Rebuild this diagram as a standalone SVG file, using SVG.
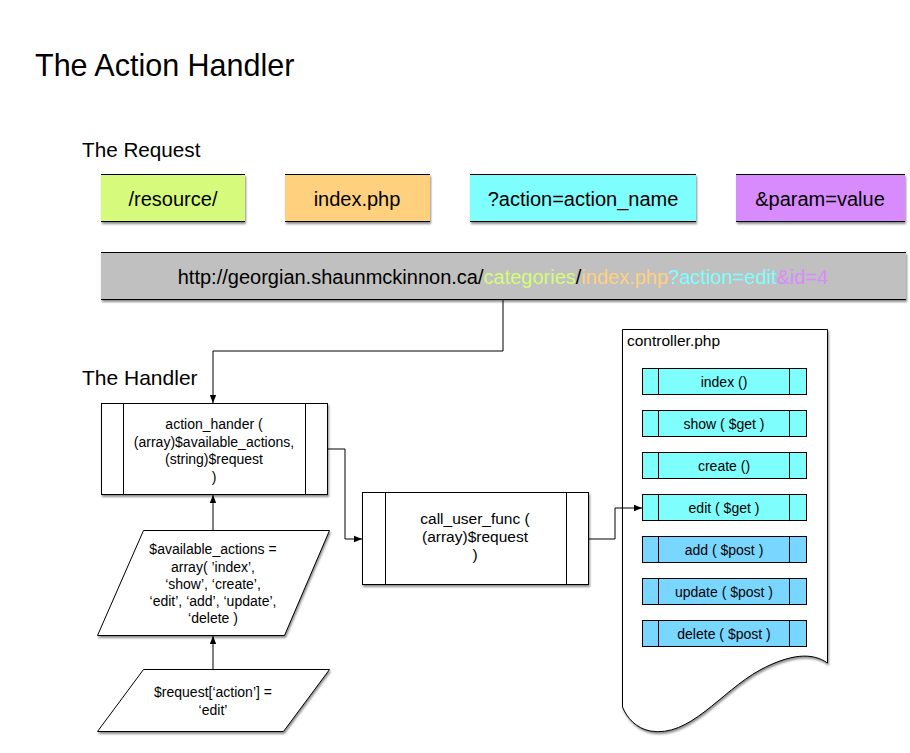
<svg xmlns="http://www.w3.org/2000/svg" width="910" height="753" viewBox="0 0 910 753">
<style>
text{font-family:"Liberation Sans",Arial,sans-serif;fill:#000}
.lbl{font-size:20px;text-anchor:middle}
.small{font-size:14px;text-anchor:middle}
.cf{font-size:15.5px;text-anchor:middle}
.m{font-size:14px;text-anchor:middle}
.edge{fill:none;stroke:#000;stroke-width:1}
.box{stroke:#000;stroke-width:1}
.bar{stroke:#000;stroke-width:1}
</style>
<defs>
<filter id="sh" x="-10%" y="-10%" width="130%" height="140%">
<feDropShadow dx="1" dy="2" stdDeviation="1.2" flood-color="#000" flood-opacity="0.45"/>
</filter>
<marker id="ah" viewBox="0 0 10 10" refX="10" refY="5" markerWidth="8" markerHeight="8" markerUnits="userSpaceOnUse" orient="auto">
<path d="M0,1 L10,5 L0,9 Z" fill="#000"/>
</marker>
</defs>
<rect width="910" height="753" fill="#fff"/>
<text x="35" y="76" style="font-size:30.5px">The Action Handler</text>
<text x="82" y="157" style="font-size:20.7px">The Request</text>
<text x="82" y="385" style="font-size:21px">The Handler</text>

<g id="req-resource">
<rect x="101" y="174" width="144" height="48" fill="#d6fb7b" filter="url(#sh)"/>
<line class="bar" x1="101" y1="174.5" x2="245" y2="174.5"/>
<line class="bar" x1="101" y1="221.5" x2="245" y2="221.5" stroke-width="1.5"/>
<text class="lbl" x="173" y="206">/resource/</text>
</g>
<g id="req-index">
<rect x="285" y="174" width="145" height="48" fill="#ffd17f" filter="url(#sh)"/>
<line class="bar" x1="285" y1="174.5" x2="430" y2="174.5"/>
<line class="bar" x1="285" y1="221.5" x2="430" y2="221.5" stroke-width="1.5"/>
<text class="lbl" x="357" y="206">index.php</text>
</g>
<g id="req-action">
<rect x="470" y="174" width="226" height="48" fill="#7ffefe" filter="url(#sh)"/>
<line class="bar" x1="470" y1="174.5" x2="696" y2="174.5"/>
<line class="bar" x1="470" y1="221.5" x2="696" y2="221.5" stroke-width="1.5"/>
<text class="lbl" x="583" y="206">?action=action_name</text>
</g>
<g id="req-param">
<rect x="736" y="174" width="169" height="48" fill="#d88bfc" filter="url(#sh)"/>
<line class="bar" x1="736" y1="174.5" x2="905" y2="174.5"/>
<line class="bar" x1="736" y1="221.5" x2="905" y2="221.5" stroke-width="1.5"/>
<text class="lbl" x="820" y="206">&amp;param=value</text>
</g>

<g id="url">
<rect x="101" y="252" width="805" height="48" fill="#c0c0c0" filter="url(#sh)"/>
<line class="bar" x1="101" y1="252.5" x2="906" y2="252.5"/>
<line class="bar" x1="101" y1="299.5" x2="906" y2="299.5" stroke-width="1.5"/>
<text class="lbl" x="503" y="284">http://georgian.shaunmckinnon.ca/<tspan fill="#d6fb7b">categories</tspan>/<tspan fill="#ffd17f">index.php</tspan><tspan fill="#7ffefe">?action=edit</tspan><tspan fill="#d88bfc">&amp;id=4</tspan></text>
</g>

<g id="action-handler">
<rect class="box" x="101.5" y="403.5" width="226" height="91" fill="#fff" filter="url(#sh)"/>
<line class="box" x1="123.5" y1="403.5" x2="123.5" y2="494.5"/>
<line class="box" x1="305.5" y1="403.5" x2="305.5" y2="494.5"/>
<text class="small" x="214" y="429">action_hander (</text>
<text class="small" x="214" y="447">(array)$available_actions,</text>
<text class="small" x="214" y="464">(string)$request</text>
<text class="small" x="214" y="482">)</text>
</g>

<g id="available-actions">
<polygon class="box" points="143.5,530.5 329.5,530.5 284.5,635.5 97.5,635.5" fill="#fff" filter="url(#sh)"/>
<text class="small" x="213" y="554">$available_actions =</text>
<text class="small" x="213" y="572">array( ’index’,</text>
<text class="small" x="213" y="589">‘show’, ‘create’,</text>
<text class="small" x="213" y="606">‘edit’, ‘add’, ‘update’,</text>
<text class="small" x="213" y="623">‘delete )</text>
</g>

<g id="request-action">
<polygon class="box" points="143.5,669.5 329.5,669.5 283.5,731.5 97.5,731.5" fill="#fff" filter="url(#sh)"/>
<text class="small" x="213" y="697">$request[‘action’] =</text>
<text class="small" x="213" y="715">‘edit’</text>
</g>

<g id="call-user-func">
<rect class="box" x="362.5" y="492.5" width="226" height="92" fill="#fff" filter="url(#sh)"/>
<line class="box" x1="385.5" y1="492.5" x2="385.5" y2="584.5"/>
<line class="box" x1="566.5" y1="492.5" x2="566.5" y2="584.5"/>
<text class="cf" x="475" y="524">call_user_func (</text>
<text class="cf" x="475" y="542">(array)$request</text>
<text class="cf" x="475" y="560">)</text>
</g>

<g id="controller">
<path class="box" d="M622.5,329.5 L827.5,329.5 L827.5,663 C812,652 790,654 760,670 C720,692 690,738 650,731 C636,728 627,718 622.5,707 Z" fill="#fff" filter="url(#sh)"/>
<text x="627" y="346" style="font-size:15.5px">controller.php</text>
</g>

<g id="m-index">
<rect class="box" x="642.5" y="368.5" width="164" height="26" fill="#7ffefe"/>
<line class="box" x1="658.5" y1="368.5" x2="658.5" y2="394.5"/><line class="box" x1="789.5" y1="368.5" x2="789.5" y2="394.5"/>
<text class="m" x="724" y="386.5">index ()</text>
</g>
<g id="m-show">
<rect class="box" x="642.5" y="410.5" width="164" height="26" fill="#7ffefe"/>
<line class="box" x1="658.5" y1="410.5" x2="658.5" y2="436.5"/><line class="box" x1="789.5" y1="410.5" x2="789.5" y2="436.5"/>
<text class="m" x="724" y="428.5">show ( $get )</text>
</g>
<g id="m-create">
<rect class="box" x="642.5" y="452.5" width="164" height="26" fill="#7ffefe"/>
<line class="box" x1="658.5" y1="452.5" x2="658.5" y2="478.5"/><line class="box" x1="789.5" y1="452.5" x2="789.5" y2="478.5"/>
<text class="m" x="724" y="470.5">create ()</text>
</g>
<g id="m-edit">
<rect class="box" x="642.5" y="494.5" width="164" height="26" fill="#7ffefe"/>
<line class="box" x1="658.5" y1="494.5" x2="658.5" y2="520.5"/><line class="box" x1="789.5" y1="494.5" x2="789.5" y2="520.5"/>
<text class="m" x="724" y="512.5">edit ( $get )</text>
</g>
<g id="m-add">
<rect class="box" x="642.5" y="536.5" width="164" height="26" fill="#79d6fe"/>
<line class="box" x1="658.5" y1="536.5" x2="658.5" y2="562.5"/><line class="box" x1="789.5" y1="536.5" x2="789.5" y2="562.5"/>
<text class="m" x="724" y="554.5">add ( $post )</text>
</g>
<g id="m-update">
<rect class="box" x="642.5" y="578.5" width="164" height="26" fill="#79d6fe"/>
<line class="box" x1="658.5" y1="578.5" x2="658.5" y2="604.5"/><line class="box" x1="789.5" y1="578.5" x2="789.5" y2="604.5"/>
<text class="m" x="724" y="596.5">update ( $post )</text>
</g>
<g id="m-delete">
<rect class="box" x="642.5" y="620.5" width="164" height="26" fill="#79d6fe"/>
<line class="box" x1="658.5" y1="620.5" x2="658.5" y2="646.5"/><line class="box" x1="789.5" y1="620.5" x2="789.5" y2="646.5"/>
<text class="m" x="724" y="638.5">delete ( $post )</text>
</g>

<g id="connectors">
<polyline class="edge" points="503,300 503,351 213,351 213,403" marker-end="url(#ah)"/>
<polyline class="edge" points="328,449 345,449 345,539 362,539" marker-end="url(#ah)"/>
<polyline class="edge" points="589,539 615,539 615,508 642,508" marker-end="url(#ah)"/>
<line class="edge" x1="213" y1="530" x2="213" y2="495" marker-end="url(#ah)"/>
<line class="edge" x1="213" y1="669" x2="213" y2="636" marker-end="url(#ah)"/>
</g>
</svg>
